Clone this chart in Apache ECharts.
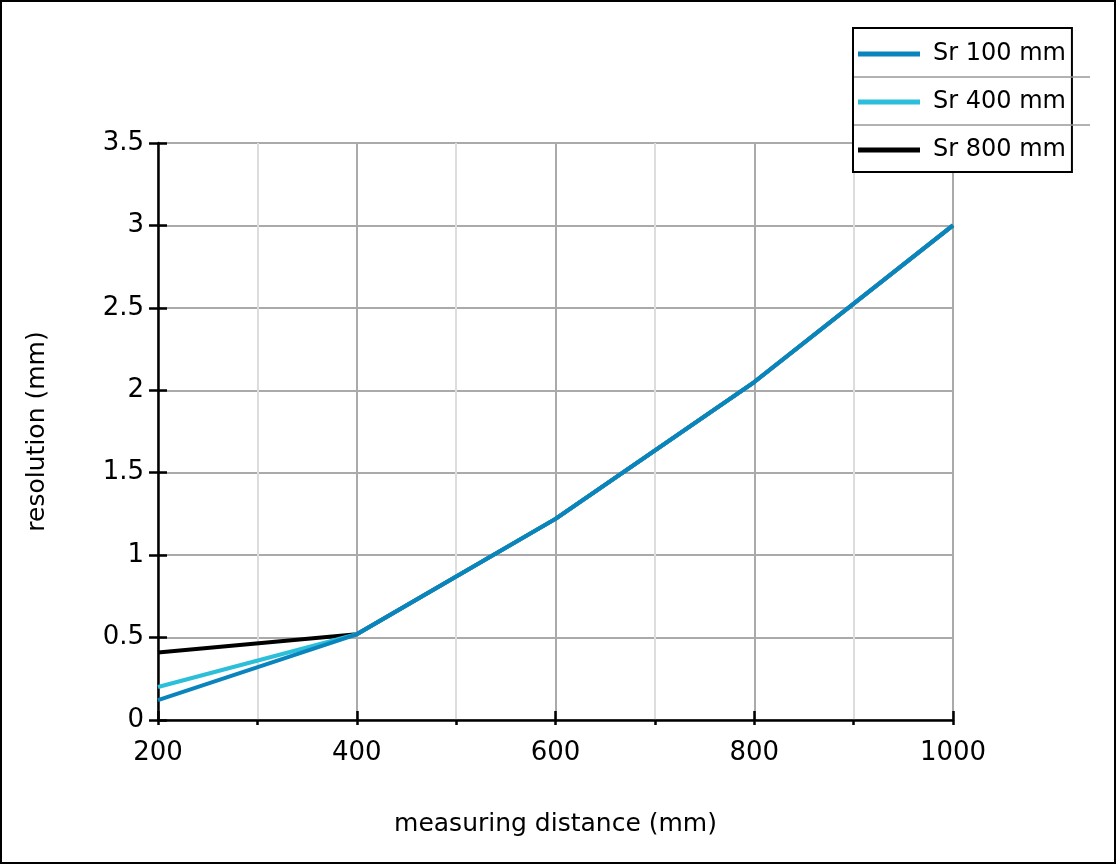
<!DOCTYPE html>
<html><head><meta charset="utf-8">
<script src="https://cdn.jsdelivr.net/npm/echarts@6/dist/echarts.min.js"></script>
<style>html,body{margin:0;background:#fff}#c{width:1116px;height:864px;box-sizing:border-box;border:2px solid #000}</style>
</head><body><div id="c"></div>
<script>
const distance = [200, 400, 600, 800, 1000];
const sr100 = [0.12, 0.52, 1.22, 2.05, 3.0];
const sr400 = [0.20, 0.52, 1.22, 2.05, 3.0];
const sr800 = [0.41, 0.52, 1.22, 2.05, 3.0];
const names = ['Sr 100 mm', 'Sr 400 mm', 'Sr 800 mm'];
const colors = ['#0A84BC', '#2CBFDA', '#000000'];

const font = '"DejaVu Sans", "Liberation Sans", sans-serif';
const chart = echarts.init(document.getElementById('c'));
const pts = arr => distance.map((d, i) => [d, arr[i]]);
const lineS = (name, data, color, z) => ({
  name, type: 'line', data: pts(data), symbol: 'none', z,
  lineStyle: {color, width: 4}, itemStyle: {color}, xAxisIndex: 0, yAxisIndex: 0
});
const xBase = {type: 'value', min: 200, max: 1000, interval: 200};
const yBase = {type: 'value', min: 0, max: 3.5, interval: 0.5};
chart.setOption({
  animation: false,
  grid: {left: 156, right: 161, top: 141, bottom: 142},
  legend: {
    orient: 'vertical', left: 851, top: 26, itemWidth: 62, itemHeight: 5, itemGap: 24,
    padding: [14, 6, 10, 5], borderColor: '#000', borderWidth: 2, backgroundColor: '#fff',
    icon: 'rect', textStyle: {fontFamily: font, fontSize: 24, color: '#000', width: 150, padding: [0, 0, 0, 8]},
    data: names
  },
  graphic: [
    {type: 'line', shape: {x1: 852, y1: 75, x2: 1088, y2: 75}, style: {stroke: '#999', lineWidth: 1.5}, z: 100},
    {type: 'line', shape: {x1: 852, y1: 123, x2: 1088, y2: 123}, style: {stroke: '#999', lineWidth: 1.5}, z: 100}
  ],
  xAxis: [
    Object.assign({}, xBase, {
      name: 'measuring distance (mm)', nameLocation: 'middle', nameGap: 92,
      nameTextStyle: {fontFamily: font, fontSize: 25, color: '#000'},
      axisLine: {show: true, onZero: false, lineStyle: {color: '#000', width: 2.5}},
      axisTick: {show: true, length: 5, lineStyle: {color: '#000', width: 2.5}},
      minorTick: {show: true, splitNumber: 2, length: 5, lineStyle: {color: '#000', width: 2.5}},
      axisLabel: {fontFamily: font, fontSize: 26, color: '#000', margin: 20, formatter: v => String(v)},
      splitLine: {show: true, lineStyle: {color: '#aaa', width: 2}},
      minorSplitLine: {show: true, lineStyle: {color: '#ddd', width: 2}}
    }),
    Object.assign({}, xBase, {
      position: 'bottom', axisLine: {show: false}, axisLabel: {show: false}, splitLine: {show: false},
      axisTick: {show: true, inside: true, length: 9, lineStyle: {color: '#000', width: 2.5}}
    })
  ],
  yAxis: [
    Object.assign({}, yBase, {
      name: 'resolution (mm)', nameLocation: 'middle', nameGap: 108,
      nameTextStyle: {fontFamily: font, fontSize: 25, color: '#000'},
      axisLine: {show: true, lineStyle: {color: '#000', width: 2.5}},
      axisTick: {show: true, length: 9, lineStyle: {color: '#000', width: 2.5}},
      axisLabel: {fontFamily: font, fontSize: 26, color: '#000', margin: 14},
      splitLine: {show: true, lineStyle: {color: '#aaa', width: 2}}
    }),
    Object.assign({}, yBase, {
      position: 'left', axisLine: {show: false}, axisLabel: {show: false}, splitLine: {show: false},
      axisTick: {show: true, inside: true, length: 9, lineStyle: {color: '#000', width: 2.5}}
    })
  ],
  series: [
    lineS(names[2], sr800, colors[2], 2),
    lineS(names[1], sr400, colors[1], 3),
    lineS(names[0], sr100, colors[0], 4)
  ]
});
</script></body></html>
